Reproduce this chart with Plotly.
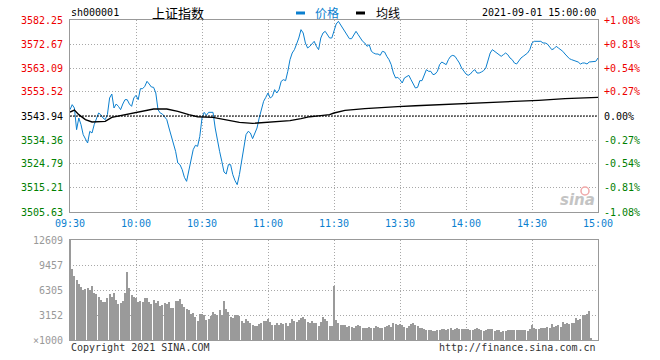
import plotly.graph_objects as go

# ---------------- data ----------------
prev_close = 3543.94
price_ticks = [3582.25, 3572.67, 3563.09, 3553.52, 3543.94, 3534.36, 3524.79, 3515.21, 3505.63]
pct_labels = ["+1.08%", "+0.81%", "+0.54%", "+0.27%", "0.00%", "-0.27%", "-0.54%", "-0.81%", "-1.08%"]
vol_ticks = [12609, 9456.75, 6304.5, 3152.25, 0]
vol_labels = ["12609", "9457", "6305", "3152", "×1000"]
time_ticks = [0, 30, 60, 90, 120, 150, 180, 210, 240]
time_labels = ["09:30", "10:00", "10:30", "11:00", "11:30", "13:30", "14:00", "14:30", "15:00"]

price = [
    3546.47, 3548.46, 3547.13, 3538.49, 3543.14, 3540.48, 3536.49, 3534.50, 3533.17, 3537.82,
    3537.16, 3540.48, 3543.14, 3545.14, 3544.47, 3543.14, 3542.48, 3544.47, 3551.13, 3552.72,
    3547.13, 3548.73, 3547.80, 3546.47, 3548.73, 3550.46, 3550.46, 3548.73, 3547.80, 3551.13,
    3552.19, 3550.46, 3554.85, 3554.85, 3555.78, 3557.78, 3556.71, 3555.51, 3555.38, 3553.12,
    3546.47, 3545.14, 3544.74, 3543.81, 3542.48, 3539.15, 3535.83, 3533.17, 3529.84, 3525.19,
    3524.52, 3522.53, 3519.47, 3517.87, 3521.86, 3525.85, 3530.51, 3532.24, 3531.84, 3535.83,
    3543.14, 3545.40, 3544.21, 3545.40, 3545.40, 3545.40, 3539.15, 3533.83, 3529.84, 3525.85,
    3521.59, 3520.80, 3524.52, 3524.52, 3520.53, 3518.14, 3516.54, 3520.53, 3525.85, 3531.17,
    3536.49, 3537.82, 3537.16, 3534.90, 3537.16, 3539.15, 3543.14, 3547.13, 3549.79, 3551.39,
    3553.12, 3551.13, 3551.79, 3554.45, 3553.12, 3554.45, 3557.78, 3558.44, 3558.04, 3561.77,
    3566.42, 3569.08, 3570.41, 3572.67, 3575.07, 3578.39, 3577.06, 3573.07, 3571.08, 3571.74,
    3572.67, 3573.74, 3571.74, 3570.41, 3575.07, 3577.06, 3577.73, 3576.40, 3575.07, 3575.07,
    3578.39, 3580.65, 3581.72, 3580.39, 3579.06, 3577.46, 3576.40, 3574.80, 3574.80, 3576.40,
    3577.73, 3576.40, 3575.07, 3573.74, 3573.07, 3571.74, 3572.41, 3569.75, 3569.08, 3568.68,
    3568.68, 3568.15, 3569.75, 3569.48, 3567.75, 3566.42, 3564.43, 3561.10, 3559.11, 3559.37,
    3558.44, 3557.11, 3559.11, 3559.77, 3560.17, 3558.44, 3556.71, 3555.12, 3555.38, 3558.04,
    3558.04, 3560.44, 3562.43, 3561.77, 3561.77, 3560.44, 3560.70, 3561.77, 3564.43, 3565.49,
    3565.09, 3564.43, 3566.42, 3567.75, 3568.15, 3567.75, 3566.42, 3565.09, 3563.10, 3561.77,
    3560.70, 3560.17, 3560.70, 3561.77, 3562.43, 3561.10, 3561.10, 3561.50, 3562.03, 3563.10,
    3565.76, 3569.08, 3570.41, 3569.75, 3569.08, 3568.42, 3567.75, 3568.42, 3569.08, 3568.42,
    3567.09, 3566.42, 3565.09, 3564.69, 3566.02, 3567.09, 3567.75, 3568.42, 3569.08, 3570.41,
    3573.07, 3573.74, 3573.74, 3574.00, 3573.74, 3573.07, 3573.07, 3572.67, 3571.74, 3570.41,
    3570.81, 3571.74, 3571.08, 3570.41, 3569.75, 3568.68, 3567.75, 3566.82, 3566.42, 3566.02,
    3565.76, 3565.49, 3564.69, 3565.09, 3565.09, 3564.69, 3565.49, 3565.49, 3565.49, 3565.76,
    3567.09,
]

avg_minutes = [0, 2, 4, 7, 10, 16, 19, 23, 26, 29, 34, 38, 44, 49, 54, 58, 65, 71, 77, 83, 88,
               94, 100, 105, 109, 114, 118, 120, 125, 134, 142, 149, 157, 167, 180, 191, 203,
               213, 225, 234, 240]
avg_price = [3545.50, 3546.33, 3544.47, 3542.48, 3541.55, 3541.81, 3543.41, 3544.07, 3544.47,
             3545.14, 3546.07, 3546.73, 3546.73, 3545.80, 3544.47, 3543.67, 3543.41, 3542.34,
             3541.41, 3541.01, 3541.28, 3541.55, 3542.08, 3542.88, 3543.67, 3544.07, 3544.47,
             3545.14, 3546.20, 3546.87, 3547.40, 3547.67, 3548.06, 3548.46, 3548.86, 3549.13,
             3549.66, 3550.19, 3550.86, 3551.25, 3551.39]

volume = [
    13500, 8952, 8028, 7523, 7061, 6683, 6305, 6431, 6557, 6305,
    6809, 5926, 5800, 5422, 5044, 4791, 4791, 5296, 5800, 5422,
    5926, 5044, 4539, 4665, 4918, 5926, 8574, 6557, 5674, 5422,
    5296, 4791, 4918, 4791, 5296, 5296, 4791, 4539, 5044, 4665,
    4918, 4287, 4413, 4665, 4539, 4791, 4035, 4035, 4918, 4918,
    5170, 4539, 4161, 3909, 3783, 3278, 3404, 2900, 2396, 3278,
    3278, 3152, 2522, 2648, 3026, 3531, 3278, 3152, 3783, 3152,
    4918, 3909, 3531, 2900, 2774, 3152, 3152, 3026, 2396, 2144,
    2648, 2396, 2144, 1891, 1765, 1765, 2017, 2144, 2396, 2396,
    2648, 2270, 1891, 1891, 2144, 1891, 2144, 2017, 2144, 1765,
    2144, 2648, 2396, 2270, 2522, 2774, 2900, 2648, 2270, 2144,
    2396, 2144, 2144, 1765, 2270, 2900, 2648, 2396, 1765, 1765,
    6809, 2522, 2144, 1891, 1891, 1891, 1639, 1765, 1639, 1513,
    1765, 1891, 1765, 1513, 1513, 1513, 1639, 1513, 1513, 1765,
    1639, 1513, 1513, 1639, 1765, 1891, 1639, 2144, 2017, 1891,
    2017, 1891, 1639, 1513, 1765, 2017, 2144, 1891, 1765, 1513,
    1513, 1387, 1261, 1261, 1261, 1135, 1135, 1261, 1261, 1387,
    1387, 1261, 1387, 1513, 1261, 1387, 1513, 1387, 1387, 1387,
    1387, 1387, 1261, 1261, 1387, 1513, 1387, 1261, 1135, 1261,
    1387, 1387, 1387, 1135, 1261, 1261, 1009, 1135, 1135, 1261,
    1261, 1261, 1261, 1261, 1261, 1261, 1261, 1261, 1135, 1387,
    1891, 1513, 1387, 1387, 1513, 1513, 1513, 1639, 1513, 2017,
    1639, 1765, 1891, 1639, 2270, 2017, 2144, 2017, 2144, 2144,
    2774, 2522, 2648, 3152, 3152, 3278, 3657, 252, 0, 0,
    0,
]
minutes = list(range(len(price)))

# ---------------- styling ----------------
W, H = 660, 360
PL, PR = 70, 598
P_TOP, P_BOT = 20, 212
V_TOP, V_BOT = 240, 340
MONO = "DejaVu Sans Mono"
BLUE = "#0b7fcf"
GRID = "#a8a8a8"
BORDER = "#999999"

def px(x):
    return x / W

def py(y):
    return 1 - y / H

fig = go.Figure()
fig.add_trace(go.Scatter(x=minutes, y=price, mode="lines", line=dict(color=BLUE, width=1),
                         xaxis="x", yaxis="y", hoverinfo="skip"))
fig.add_trace(go.Scatter(x=avg_minutes, y=avg_price, mode="lines", line=dict(color="#000000", width=1.4),
                         xaxis="x", yaxis="y", hoverinfo="skip"))
fig.add_trace(go.Bar(x=minutes, y=volume, marker=dict(color="#9a9a9a", line=dict(width=0)),
                     width=0.4, xaxis="x2", yaxis="y2", hoverinfo="skip"))

axis_common = dict(showline=True, mirror=True, linecolor=BORDER, linewidth=1, zeroline=False,
                   showgrid=True, gridcolor=GRID, gridwidth=1, griddash="1px,2px", fixedrange=True,
                   automargin=False)

fig.update_layout(
    template="none",
    width=W, height=H, margin=dict(l=0, r=0, t=0, b=0, pad=0, autoexpand=False),
    paper_bgcolor="white", plot_bgcolor="white", showlegend=False, bargap=0,
    xaxis=dict(domain=[px(PL), px(PR)], range=[0, 240], anchor="y", tickvals=time_ticks,
               ticktext=time_labels, ticks="", tickfont=dict(family=MONO, size=10, color=BLUE),
               ticklabelstandoff=2, **axis_common),
    yaxis=dict(domain=[py(P_BOT), py(P_TOP)], range=[price_ticks[-1], price_ticks[0]], anchor="x",
               tickvals=price_ticks, showticklabels=False, ticks="", **axis_common),
    xaxis2=dict(domain=[px(PL), px(PR)], range=[0, 240], anchor="y2", tickvals=time_ticks,
                showticklabels=False, ticks="", **axis_common),
    yaxis2=dict(domain=[py(V_BOT), py(V_TOP)], range=[0, 12609], anchor="x2",
                tickvals=vol_ticks, showticklabels=False, ticks="", **axis_common),
)

# previous close dashed line
fig.add_shape(type="line", xref="x", yref="y", x0=0, x1=240, y0=prev_close, y1=prev_close,
              line=dict(color="black", width=1, dash="2px,1px"))

ann = []
for v, pl in zip(price_ticks, pct_labels):
    col = "#ee0000" if v > prev_close + 1e-6 else ("#000000" if abs(v - prev_close) < 1e-6 else "#008000")
    ann.append(dict(x=px(65), y=v, xref="paper", yref="y", xanchor="right", yanchor="middle",
                    text=f"{v:.2f}", showarrow=False, font=dict(family=MONO, size=10, color=col)))
    ann.append(dict(x=px(602), y=v, xref="paper", yref="y", xanchor="left", yanchor="middle",
                    text=pl, showarrow=False, font=dict(family=MONO, size=10, color=col)))
for v, t in zip(vol_ticks, vol_labels):
    ann.append(dict(x=px(65), y=v, xref="paper", yref="y2", xanchor="right", yanchor="middle",
                    text=t, showarrow=False, font=dict(family=MONO, size=10, color="#999999")))

ann += [
    dict(x=px(69), y=py(13), xref="paper", yref="paper", xanchor="left", yanchor="middle",
         text="sh000001", showarrow=False, font=dict(family=MONO, size=10, color="#000")),
    dict(x=px(150), y=py(13), xref="paper", yref="paper", xanchor="left", yanchor="middle",
         text="上证指数", showarrow=False, font=dict(family="Noto Sans CJK SC", size=13, color="#000")),
    dict(x=px(313), y=py(13), xref="paper", yref="paper", xanchor="left", yanchor="middle",
         text="价格", showarrow=False, font=dict(family="Noto Sans CJK SC", size=12, color=BLUE)),
    dict(x=px(374), y=py(13), xref="paper", yref="paper", xanchor="left", yanchor="middle",
         text="均线", showarrow=False, font=dict(family="Noto Sans CJK SC", size=12, color="#000")),
    dict(x=px(598), y=py(13), xref="paper", yref="paper", xanchor="right", yanchor="middle",
         text="2021-09-01 15:00:00", showarrow=False, font=dict(family=MONO, size=10, color="#000")),
    dict(x=px(69), y=py(347), xref="paper", yref="paper", xanchor="left", yanchor="middle",
         text="Copyright 2021 SINA.COM", showarrow=False, font=dict(family=MONO, size=10, color="#333")),
    dict(x=px(598), y=py(347), xref="paper", yref="paper", xanchor="right", yanchor="middle",
         text="http://finance.sina.com.cn", showarrow=False, font=dict(family=MONO, size=10, color="#333")),
    dict(x=px(597), y=py(200), xref="paper", yref="paper", xanchor="right", yanchor="middle",
         text="sina", showarrow=False,
         font=dict(family="DejaVu Sans", size=15, color="#c4c4c4", style="italic", weight="bold")),
]
fig.update_layout(annotations=ann)

# legend swatches
fig.add_shape(type="line", xref="paper", yref="paper", x0=px(296), x1=px(305), y0=py(13), y1=py(13),
              line=dict(color=BLUE, width=3))
fig.add_shape(type="line", xref="paper", yref="paper", x0=px(356), x1=px(365), y0=py(13), y1=py(13),
              line=dict(color="#000", width=3))
# sina logo eye
fig.add_shape(type="circle", xref="paper", yref="paper", x0=px(581), x1=px(589), y0=py(195), y1=py(187),
              line=dict(color="#f0a8a8", width=1.5))

fig.write_html("out.html", config={"displayModeBar": False},
               post_script="document.body.style.margin='0px';")
